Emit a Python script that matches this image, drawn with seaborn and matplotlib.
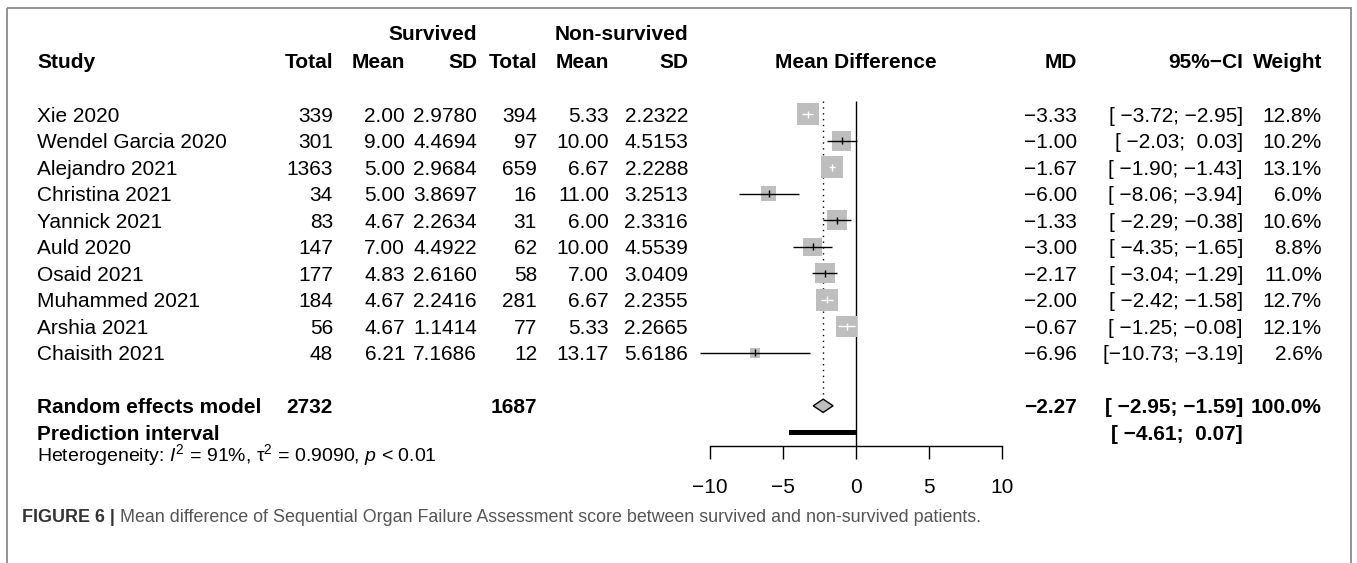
import numpy as np
import pandas as pd
import matplotlib
matplotlib.use("Agg")
import matplotlib.pyplot as plt
import seaborn as sns
from matplotlib.patches import Rectangle, Polygon

# ---- study-level data -------------------------------------------------------
studies = ["Xie 2020", "Wendel Garcia 2020", "Alejandro 2021", "Christina 2021",
           "Yannick 2021", "Auld 2020", "Osaid 2021", "Muhammed 2021",
           "Arshia 2021", "Chaisith 2021"]
n_surv = [339, 301, 1363, 34, 83, 147, 177, 184, 56, 48]
mean_surv = [2.00, 9.00, 5.00, 5.00, 4.67, 7.00, 4.83, 4.67, 4.67, 6.21]
sd_surv = [2.9780, 4.4694, 2.9684, 3.8697, 2.2634, 4.4922, 2.6160, 2.2416, 1.1414, 7.1686]
n_non = [394, 97, 659, 16, 31, 62, 58, 281, 77, 12]
mean_non = [5.33, 10.00, 6.67, 11.00, 6.00, 10.00, 7.00, 6.67, 5.33, 13.17]
sd_non = [2.2322, 4.5153, 2.2288, 3.2513, 2.3316, 4.5539, 3.0409, 2.2355, 2.2665, 5.6186]
md = [-3.33, -1.00, -1.67, -6.00, -1.33, -3.00, -2.17, -2.00, -0.67, -6.96]
ci_low = [-3.72, -2.03, -1.90, -8.06, -2.29, -4.35, -3.04, -2.42, -1.25, -10.73]
ci_high = [-2.95, 0.03, -1.43, -3.94, -0.38, -1.65, -1.29, -1.58, -0.08, -3.19]
weight = [12.8, 10.2, 13.1, 6.0, 10.6, 8.8, 11.0, 12.7, 12.1, 2.6]

# ---- pooled results -----------------------------------------------------------
total_surv = 2732
total_non = 1687
pooled_md = -2.27
pooled_low = -2.95
pooled_high = -1.59
pooled_weight = 100.0
pred_low = -4.61
pred_high = 0.07
axis_ticks = [-10, -5, 0, 5, 10]

heterogeneity = r"Heterogeneity: $I^2$ = 91%, τ$^2$ = 0.9090, $p$ < 0.01"
caption_head = "FIGURE 6 |"
caption_body = (" Mean difference of Sequential Organ Failure Assessment score "
                "between survived and non-survived patients.")

df = pd.DataFrame({"study": studies, "md": md, "low": ci_low, "high": ci_high,
                   "weight": weight, "row": np.arange(len(studies))})

# ---- style ----------------------------------------------------------------------
sns.set_theme(style="white")
plt.rcParams["font.family"] = ["Liberation Sans", "DejaVu Sans"]
plt.rcParams["mathtext.fontset"] = "custom"
plt.rcParams["mathtext.rm"] = "Liberation Sans"
plt.rcParams["mathtext.it"] = "Liberation Sans:italic"
plt.rcParams["mathtext.bf"] = "Liberation Sans:bold"
plt.rcParams["axes.unicode_minus"] = True

W, H = 1357, 563
FS = 15.0            # table font size (pt)
BASE = 7.5           # baseline offset below the row centre (px)

fig = plt.figure(figsize=(W / 100, H / 100), dpi=100)
fig.patch.set_facecolor("white")

# text layer in pixel units (y grows downward)
tx = fig.add_axes([0, 0, 1, 1])
tx.set_xlim(0, W)
tx.set_ylim(H, 0)
tx.axis("off")

# forest panel: MD units horizontally, row index vertically
PX_PER_UNIT = 14.6
ZERO_X = 856.3
ROW0_Y = 114.3
ROW_H = 26.5
xmin, xmax = -11.6, 11.6
rmin, rmax = -1.0, 15.0
left_px = ZERO_X + xmin * PX_PER_UNIT
width_px = (xmax - xmin) * PX_PER_UNIT
top_px = ROW0_Y + rmin * ROW_H
bottom_px = ROW0_Y + rmax * ROW_H
fx = fig.add_axes([left_px / W, 1 - bottom_px / H, width_px / W, (bottom_px - top_px) / H])
fx.set_xlim(xmin, xmax)
fx.set_ylim(rmax, rmin)
fx.patch.set_alpha(0)

SUMMARY_ROW = 11
PRED_ROW = 12
AXIS_ROW = 12.52


def row_y(r):
    return ROW0_Y + r * ROW_H


def fmt_num(v, nd):
    return f"{v:.{nd}f}".replace("-", "\u2212")


def fmt_ci(lo, hi):
    return "[" + fmt_num(lo, 2).rjust(6) + "; " + fmt_num(hi, 2).rjust(5) + "]"


def put(x, y, s, ha="left", bold=False, size=FS, **kw):
    tx.text(x, y, s, ha=ha, va="baseline", fontsize=size,
            fontweight="bold" if bold else "normal", color=kw.pop("color", "black"), **kw)


# ---- column layout (right edges in px) ---------------------------------------
X_STUDY = 37
X_NE, X_ME, X_SE = 333, 405, 477
X_NC, X_MC, X_SC = 537, 609, 688
X_MD, X_CI, X_W = 1077, 1243, 1322

# headers
put(X_SE, 40, "Survived", ha="right", bold=True)
put(X_SC, 40, "Non-survived", ha="right", bold=True)
hy = 68
put(X_STUDY, hy, "Study", bold=True)
for x, lab in [(X_NE, "Total"), (X_ME, "Mean"), (X_SE, "SD"),
               (X_NC, "Total"), (X_MC, "Mean"), (X_SC, "SD"),
               (X_MD, "MD"), (X_CI, "95%\u2212CI"), (X_W, "Weight")]:
    put(x, hy, lab, ha="right", bold=True)
put(ZERO_X, hy, "Mean Difference", ha="center", bold=True)

# study rows
for i, name in enumerate(studies):
    y = row_y(i) + BASE
    put(X_STUDY, y, name)
    put(X_NE, y, f"{n_surv[i]}", ha="right")
    put(X_ME, y, fmt_num(mean_surv[i], 2), ha="right")
    put(X_SE, y, fmt_num(sd_surv[i], 4), ha="right")
    put(X_NC, y, f"{n_non[i]}", ha="right")
    put(X_MC, y, fmt_num(mean_non[i], 2), ha="right")
    put(X_SC, y, fmt_num(sd_non[i], 4), ha="right")
    put(X_MD, y, fmt_num(md[i], 2), ha="right")
    put(X_CI, y, fmt_ci(ci_low[i], ci_high[i]), ha="right")
    put(X_W, y, f"{weight[i]:.1f}%", ha="right")

# pooled rows
y = row_y(SUMMARY_ROW) + BASE
put(X_STUDY, y, "Random effects model", bold=True)
put(X_NE, y, f"{total_surv}", ha="right", bold=True)
put(X_NC, y, f"{total_non}", ha="right", bold=True)
put(X_MD, y, fmt_num(pooled_md, 2), ha="right", bold=True)
put(X_CI, y, fmt_ci(pooled_low, pooled_high), ha="right", bold=True)
put(X_W, y, f"{pooled_weight:.1f}%", ha="right", bold=True)

y = row_y(PRED_ROW) + BASE
put(X_STUDY, y, "Prediction interval", bold=True)
put(X_CI, y, fmt_ci(pred_low, pred_high), ha="right", bold=True)

put(X_STUDY, 461.5, heterogeneity, size=14)

# caption
head = tx.text(22, 526, caption_head, ha="left", va="bottom", fontsize=12.9,
               fontweight="bold", color="#333333")
tx.annotate(caption_body, xy=(1, 0), xycoords=head, ha="left", va="bottom",
            fontsize=12.9, color="#555555")

# outer frame
tx.add_patch(Rectangle((6.5, 8), 1344.5, 700, fill=False, edgecolor="#8a8a8a", lw=1.3))

# ---- forest marks ----------------------------------------------------------------
SQ_PX = 6.08                                   # square side per sqrt(weight), px
s_factor = (SQ_PX * 0.72) ** 2                 # scatter area per unit weight (pt^2)
wmin, wmax = min(weight), max(weight)
sns.scatterplot(data=df, x="md", y="row", size="weight", marker="s",
                sizes=(s_factor * wmin, s_factor * wmax), size_norm=(wmin, wmax),
                color="#bebebe", linewidth=0, legend=False, ax=fx, zorder=2, clip_on=False)

half_w = SQ_PX * np.sqrt(df["weight"]) / 2 / PX_PER_UNIT
inside = (df["low"] >= df["md"] - half_w) & (df["high"] <= df["md"] + half_w)
line_cols = np.where(inside, "white", "black")
fx.hlines(df["row"], df["low"], df["high"], colors=line_cols, lw=1.0, zorder=3, clip_on=False)
fx.vlines(df["md"], df["row"] - 0.13, df["row"] + 0.13, colors=line_cols, lw=1.0, zorder=3)

# reference lines
fx.vlines(0, -0.52, AXIS_ROW, color="black", lw=1.0, zorder=1)
fx.vlines(pooled_md, -0.52, SUMMARY_ROW - 0.25, color="black", lw=1.0,
          linestyles=(0, (1, 3.2)), zorder=1)

# pooled diamond
fx.add_patch(Polygon([(pooled_low, SUMMARY_ROW), (pooled_md, SUMMARY_ROW - 0.25),
                      (pooled_high, SUMMARY_ROW), (pooled_md, SUMMARY_ROW + 0.25)],
                     closed=True, facecolor="#bebebe", edgecolor="black", lw=1.0, zorder=3))

# prediction interval bar
fx.add_patch(Rectangle((pred_low, PRED_ROW - 0.105), pred_high - pred_low, 0.21,
                       facecolor="black", edgecolor="none", zorder=3))

# x axis
for side in ["top", "left", "right"]:
    fx.spines[side].set_visible(False)
fx.spines["bottom"].set_position(("data", AXIS_ROW))
fx.spines["bottom"].set_bounds(axis_ticks[0], axis_ticks[-1])
fx.spines["bottom"].set_color("black")
fx.spines["bottom"].set_linewidth(1.0)
fx.set_xticks(axis_ticks)
fx.set_xticklabels([fmt_num(t, 0) for t in axis_ticks])
fx.tick_params(axis="x", direction="out", length=9.4, width=1.0, color="black",
               labelsize=FS, pad=13.5, labelcolor="black", bottom=True)
fx.set_yticks([])
fx.set_xlabel("")
fx.set_ylabel("")

fig.savefig("out.png", dpi=100, facecolor="white")
